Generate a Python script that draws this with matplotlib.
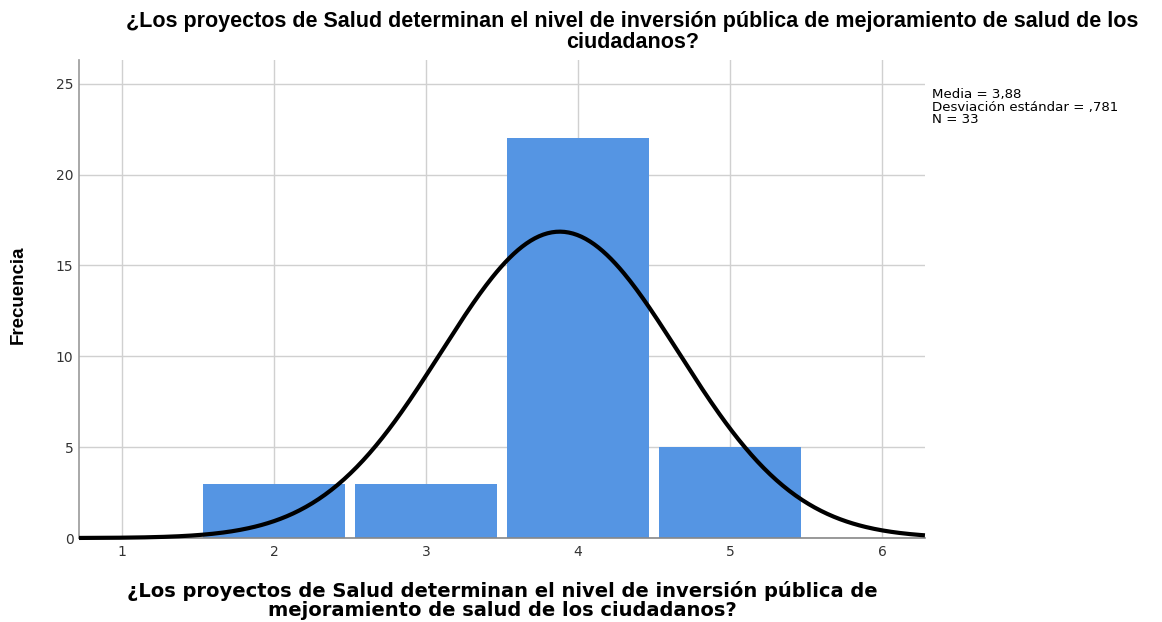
import numpy as np
import matplotlib
matplotlib.use("Agg")
import matplotlib.pyplot as plt

categories = [2, 3, 4, 5]
frequencies = [3, 3, 22, 5]
mean_val = 3.88
std_val = 0.781
n_val = 33
xticks = [1, 2, 3, 4, 5, 6]
yticks = [0, 5, 10, 15, 20, 25]

title = "¿Los proyectos de Salud determinan el nivel de inversión pública de mejoramiento de salud de los\nciudadanos?"
xlabel = "¿Los proyectos de Salud determinan el nivel de inversión pública de\nmejoramiento de salud de los ciudadanos?"
ylabel = "Frecuencia"
stats_text = "Media = 3,88\nDesviación estándar = ,781\nN = 33"

fig = plt.figure(figsize=(11.62, 6.22), dpi=100)
ax = fig.add_axes([0.068, 0.135, 0.728, 0.7685])

ax.set_xlim(0.717, 6.283)
ax.set_ylim(0, 26.3)
ax.set_xticks(xticks)
ax.set_yticks(yticks)
ax.grid(True, color="#d0d0d0", linewidth=1.0)
ax.set_axisbelow(True)

ax.bar(categories, frequencies, width=0.94, color="#5595e3", linewidth=0, zorder=2)

xs = np.linspace(0.717, 6.283, 400)
ys = n_val * 1.0 / (std_val * np.sqrt(2 * np.pi)) * np.exp(-0.5 * ((xs - mean_val) / std_val) ** 2)
ax.plot(xs, ys, color="black", linewidth=3, zorder=3, clip_on=False,
        solid_capstyle="butt")

for s in ["top", "right"]:
    ax.spines[s].set_visible(False)
ax.spines["left"].set_color("#999999")
ax.spines["bottom"].set_color("#888888")
ax.spines["left"].set_linewidth(1.2)
ax.spines["bottom"].set_linewidth(1.2)
ax.tick_params(length=0, labelsize=10, colors="#333333")
ax.tick_params(axis="y", pad=4)
ax.tick_params(axis="x", pad=5)

fig.text(0.544, 0.982, title, ha="center", va="top", fontsize=15.5,
         fontweight="bold", family="Liberation Sans", linespacing=0.98)
fig.text(0.432, 0.003, xlabel, ha="center", va="bottom", fontsize=14,
         fontweight="bold", family="DejaVu Sans", linespacing=1.0)
fig.text(0.0155, 0.526, ylabel, rotation=90, ha="center", va="center",
         fontsize=13.5, fontweight="bold", family="Liberation Sans")
fig.text(0.802, 0.858, stats_text, ha="left", va="top", fontsize=9.6,
         family="DejaVu Sans", linespacing=0.95)

fig.savefig("out.png", dpi=100, facecolor="white")
